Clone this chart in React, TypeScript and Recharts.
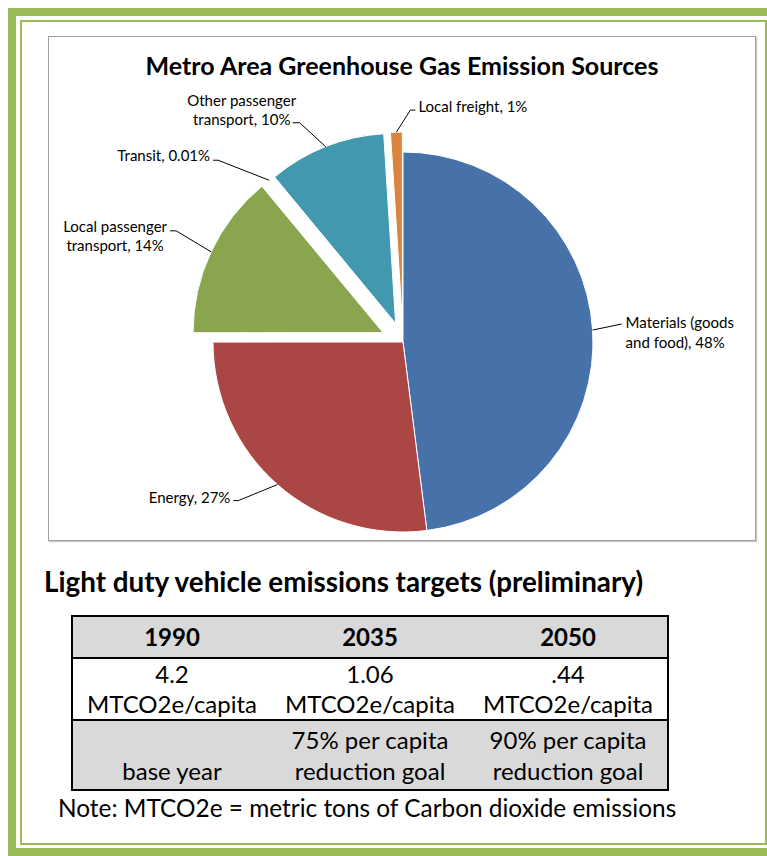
import React from "react";
import { PieChart, Pie, Cell, Sector, Tooltip } from "recharts";

// pie data
const sources = [
  "Materials (goods and food)",
  "Energy",
  "Local passenger transport",
  "Transit",
  "Other passenger transport",
  "Local freight",
];
const shares = [48, 27, 14, 0.01, 10, 1];
const sliceColors = ["#4672A9", "#AA4643", "#89A54E", "#71588F", "#4198AF", "#DB843D"];

// table data
const targetYears = ["1990", "2035", "2050"];
const targetAmounts = ["4.2", "1.06", ".44"];
const targetUnit = "MTCO2e/capita";
const targetGoals = [
  ["", "base year"],
  ["75% per capita", "reduction goal"],
  ["90% per capita", "reduction goal"],
];

const pieData = sources.map((name, i) => ({ name, value: shares[i] }));

// how far each slice is pulled out of the pie (px)
const explode: Record<string, number> = {
  "Local passenger transport": 22,
  Transit: 20,
  "Other passenger transport": 20,
  "Local freight": 20,
};

// leader line elbow (relative to slice edge) and text placement (relative to elbow)
type LabelPos = { dx: number; dy: number; tail: number; anchor: "start" | "middle" | "end"; tx: number; ty: number };
const labelPos: Record<string, LabelPos> = {
  "Materials (goods and food)": { dx: 29, dy: -6, tail: 0, anchor: "start", tx: 4, ty: -2 },
  Energy: { dx: -39, dy: 16, tail: -5, anchor: "end", tx: -3, ty: -4 },
  "Local passenger transport": { dx: -35, dy: -21, tail: -6, anchor: "middle", tx: -55, ty: -5 },
  Transit: { dx: -51, dy: -20, tail: -5, anchor: "end", tx: -3, ty: -5 },
  "Other passenger transport": { dx: -26, dy: -24, tail: -7, anchor: "middle", tx: -51, ty: -23 },
  "Local freight": { dx: 14, dy: -22, tail: 5, anchor: "start", tx: 3, ty: -4 },
};

const GREEN = "#9BBB59";
const FONT = "Lato, 'Open Sans', sans-serif";
const RAD = Math.PI / 180;

const wrap = (s: string, max = 17) => {
  const lines: string[] = [];
  let cur = "";
  for (const w of s.split(" ")) {
    if (cur && (cur + " " + w).length > max) {
      lines.push(cur);
      cur = w;
    } else cur = cur ? cur + " " + w : w;
  }
  if (cur) lines.push(cur);
  return lines;
};

const renderSlice = (props: any) => {
  const name = props.name ?? props.payload?.name;
  const off = explode[name] ?? 0;
  const a = -props.midAngle * RAD;
  return (
    <Sector
      cx={props.cx + off * Math.cos(a)}
      cy={props.cy + off * Math.sin(a)}
      innerRadius={props.innerRadius}
      outerRadius={props.outerRadius}
      startAngle={props.startAngle}
      endAngle={props.endAngle}
      fill={props.fill}
      stroke="#fff"
      strokeWidth={1}
    />
  );
};

const renderLabel = (props: any) => {
  const name = props.name ?? props.payload?.name;
  const value = props.value ?? props.payload?.value;
  const pos = labelPos[name];
  if (!pos) return null;
  const off = explode[name] ?? 0;
  const a = -props.midAngle * RAD;
  const r = props.outerRadius + off;
  const ex = props.cx + r * Math.cos(a);
  const ey = props.cy + r * Math.sin(a);
  const bx = ex + pos.dx;
  const by = ey + pos.dy;
  const tailX = bx + pos.tail;
  const lines = wrap(`${name}, ${value}%`);
  return (
    <g>
      <polyline
        points={`${ex},${ey} ${bx},${by} ${tailX},${by}`}
        fill="none"
        stroke="#000"
        strokeWidth={1}
      />
      {lines.map((l, i) => (
        <text
          key={i}
          x={tailX + pos.tx}
          y={by + pos.ty + i * 19.5}
          textAnchor={pos.anchor}
          dominantBaseline="central"
          fontSize={15}
          fontFamily={FONT}
          fill="#000"
        >
          {l}
        </text>
      ))}
    </g>
  );
};

const cellText: React.CSSProperties = {
  flex: 1,
  textAlign: "center",
  lineHeight: "30px",
};

export default function App() {
  return (
    <div
      style={{
        position: "absolute",
        left: 0,
        top: 0,
        width: 767,
        height: 856,
        overflow: "hidden",
        background: "#fff",
        fontFamily: FONT,
        color: "#000",
      }}
    >
      {/* green frame */}
      <div
        style={{
          position: "absolute",
          left: 8,
          top: 8,
          width: 767,
          height: 848,
          border: `8px solid ${GREEN}`,
          boxSizing: "border-box",
        }}
      />
      <div
        style={{
          position: "absolute",
          left: 20,
          top: 20,
          width: 747,
          height: 825,
          border: `2px solid ${GREEN}`,
          boxSizing: "border-box",
        }}
      />

      {/* chart box */}
      <div
        style={{
          position: "absolute",
          left: 48,
          top: 36,
          width: 708,
          height: 505,
          border: "1px solid #a0a0a0",
          boxShadow: "1px 1px 1px #c8c8c8",
          boxSizing: "border-box",
        }}
      />
      <div
        style={{
          position: "absolute",
          left: 48,
          top: 50,
          width: 708,
          height: 30,
          lineHeight: "30px",
          textAlign: "center",
          fontWeight: 700,
          fontSize: 25,
        }}
      >
        Metro Area Greenhouse Gas Emission Sources
      </div>
      <div style={{ position: "absolute", left: 48, top: 36 }}>
        <PieChart width={708} height={505} margin={{ top: 0, right: 0, bottom: 0, left: 0 }}>
          <Pie
            data={pieData}
            dataKey="value"
            nameKey="name"
            cx={355}
            cy={306}
            outerRadius={190}
            startAngle={90}
            endAngle={-270}
            stroke="#fff"
            strokeWidth={1}
            shape={renderSlice}
            activeShape={renderSlice}
            inactiveShape={renderSlice}
            label={renderLabel}
            labelLine={false}
            isAnimationActive={false}
          >
            {pieData.map((d, i) => (
              <Cell key={d.name} fill={sliceColors[i]} />
            ))}
          </Pie>
          <Tooltip defaultIndex={0} content={() => null} />
        </PieChart>
      </div>

      {/* targets table */}
      <div
        style={{
          position: "absolute",
          left: 44,
          top: 566,
          fontSize: 27.8,
          fontWeight: 700,
          lineHeight: "32px",
          whiteSpace: "nowrap",
        }}
      >
        Light duty vehicle emissions targets (preliminary)
      </div>
      <div
        style={{
          position: "absolute",
          left: 71,
          top: 615,
          width: 598,
          height: 176,
          border: "2px solid #000",
          boxSizing: "border-box",
          fontSize: 24,
        }}
      >
        <div
          style={{
            display: "flex",
            height: 40,
            alignItems: "center",
            background: "#D9D9D9",
            fontWeight: 700,
          }}
        >
          {targetYears.map((y) => (
            <div key={y} style={cellText}>
              {y}
            </div>
          ))}
        </div>
        <div
          style={{
            display: "flex",
            height: 62,
            alignItems: "center",
            borderTop: "2px solid #000",
            boxSizing: "border-box",
          }}
        >
          {targetAmounts.map((v) => (
            <div key={v} style={cellText}>
              <div>{v}</div>
              <div>{targetUnit}</div>
            </div>
          ))}
        </div>
        <div
          style={{
            display: "flex",
            height: 70,
            alignItems: "center",
            borderTop: "2px solid #000",
            boxSizing: "border-box",
            background: "#D9D9D9",
          }}
        >
          {targetGoals.map((g, i) => (
            <div key={i} style={{ ...cellText, lineHeight: "31px" }}>
              <div>{g[0] || "\u00a0"}</div>
              <div>{g[1]}</div>
            </div>
          ))}
        </div>
      </div>
      <div
        style={{
          position: "absolute",
          left: 58,
          top: 793,
          fontSize: 24.4,
          lineHeight: "30px",
          whiteSpace: "nowrap",
        }}
      >
        Note: MTCO2e = metric tons of Carbon dioxide emissions
      </div>
    </div>
  );
}
